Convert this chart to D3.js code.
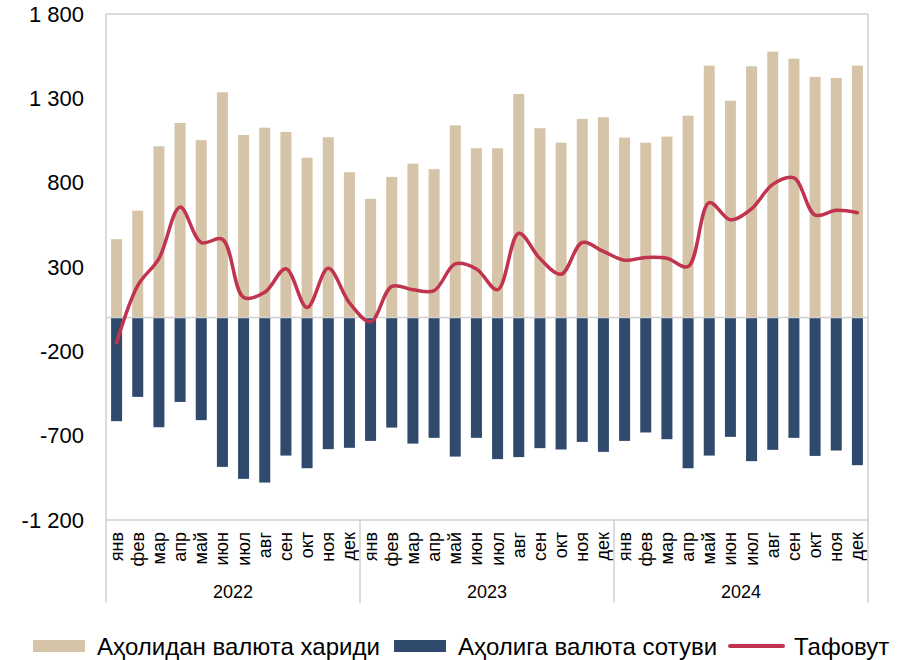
<!DOCTYPE html>
<html>
<head>
<meta charset="utf-8">
<script src="https://cdn.jsdelivr.net/npm/d3@7"></script>
<style>
  body { margin: 0; background: #fff; }
  svg text { font-family: "Liberation Sans", Arial, sans-serif; fill: #000; }
</style>
</head>
<body>
<svg id="chart"></svg>
<script>
// month labels, repeated for each year
var months = ["янв", "фев", "мар", "апр", "май", "июн", "июл", "авг", "сен", "окт", "ноя", "дек"];
var years = ["2022", "2023", "2024"];

// purchases from population (positive bars)
var purchase = [465, 634, 1016, 1154, 1052, 1336, 1083, 1126, 1101, 948, 1069, 862,
                704, 834, 913, 880, 1140, 1004, 1004, 1326, 1123, 1037, 1178, 1188,
                1067, 1037, 1073, 1197, 1494, 1286, 1490, 1577, 1535, 1427, 1421, 1494];

// sales to population (negative bars)
var sale = [-614, -470, -650, -500, -608, -885, -956, -978, -818, -893, -780, -772,
            -731, -652, -747, -713, -824, -713, -839, -827, -774, -782, -737, -796,
            -731, -681, -721, -893, -818, -707, -851, -784, -713, -820, -788, -875];

// difference line
var gap = [-150, 190, 350, 655, 445, 465, 120, 150, 290, 60, 292, 88,
           -25, 185, 165, 160, 318, 288, 165, 500, 350, 257, 445, 392,
           340, 357, 352, 303, 682, 580, 645, 790, 828, 608, 636, 622];

var yTicks = [-1200, -700, -200, 300, 800, 1300, 1800];
var legendNames = ["Аҳолидан валюта хариди", "Аҳолига валюта сотуви", "Тафовут"];

var colBuy = "#D6C4A8";
var colSell = "#2F4A6D";
var colGap = "#C0344F";
var colGrid = "#D0D0D0";

function plotChart(svgWidth, svgHeight) {

    /*
        MARGINS
    */
    var margin = {top: 14, left: 106, right: 40, bottom: 140};
    var width = svgWidth - margin.left - margin.right;   // 762
    var height = svgHeight - margin.top - margin.bottom; // 506

    var svg = d3.select("#chart")
        .attr("width", svgWidth)
        .attr("height", svgHeight);

    // one key per month, "2022-0" etc.
    var keys = [];
    years.forEach(function(y) {
        months.forEach(function(m, i) { keys.push(y + "-" + i); });
    });

    /*
        SCALES
    */
    var xScale = d3.scaleBand()
        .domain(keys)
        .range([0, width])
        .paddingInner(0.48)
        .paddingOuter(0.24);

    var yScale = d3.scaleLinear()
        .domain([-1200, 1800])
        .range([height, 0]);

    var loc = d3.formatLocale({decimal: ",", thousands: " ", grouping: [3], currency: ["", ""], minus: "-"});
    var fmt = loc.format(",");

    var g = svg.append("g")
        .attr("transform", "translate(" + margin.left + "," + margin.top + ")");

    // plot frame
    g.append("line").attr("x1", 0).attr("x2", width).attr("y1", 0).attr("y2", 0)
        .attr("stroke", colGrid).attr("stroke-width", 1.5);
    g.append("line").attr("x1", 0).attr("x2", width).attr("y1", height).attr("y2", height)
        .attr("stroke", colGrid).attr("stroke-width", 1.5);

    // y axis, labels only
    var y_axis = d3.axisLeft(yScale)
        .tickValues(yTicks)
        .tickFormat(fmt)
        .tickSize(0)
        .tickPadding(22);

    var ya = g.append("g").call(y_axis);
    ya.select(".domain").remove();
    ya.selectAll("text")
        .style("font-size", "22px");

    /*
        BARS
    */
    g.selectAll(".buy")
        .data(purchase)
        .enter().append("rect")
        .attr("class", "buy")
        .attr("x", function(d, i) { return xScale(keys[i]); })
        .attr("width", xScale.bandwidth())
        .attr("y", function(d) { return yScale(d); })
        .attr("height", function(d) { return yScale(0) - yScale(d); })
        .attr("fill", colBuy);

    g.selectAll(".sell")
        .data(sale)
        .enter().append("rect")
        .attr("class", "sell")
        .attr("x", function(d, i) { return xScale(keys[i]); })
        .attr("width", xScale.bandwidth())
        .attr("y", yScale(0))
        .attr("height", function(d) { return yScale(d) - yScale(0); })
        .attr("fill", colSell);

    // zero line
    g.append("line").attr("x1", 0).attr("x2", width)
        .attr("y1", yScale(0)).attr("y2", yScale(0))
        .attr("stroke", colGrid).attr("stroke-width", 1.5);

    /*
        LINE
    */
    var line = d3.line()
        .x(function(d, i) { return xScale(keys[i]) + xScale.bandwidth() / 2; })
        .y(function(d) { return yScale(d); })
        .curve(d3.curveCatmullRom.alpha(0.5));

    g.append("path")
        .datum(gap)
        .attr("fill", "none")
        .attr("stroke", colGap)
        .attr("stroke-width", 3.5)
        .attr("stroke-linejoin", "round")
        .attr("stroke-linecap", "round")
        .attr("d", line);

    /*
        CATEGORY AXIS (months + years)
    */
    g.selectAll(".mon")
        .data(keys)
        .enter().append("text")
        .attr("class", "mon")
        .attr("transform", function(d) {
            var cx = xScale(d) + xScale.bandwidth() / 2 + 6;
            return "translate(" + cx + "," + (height + 12) + ") rotate(-90)";
        })
        .style("text-anchor", "end")
        .style("font-size", "18px")
        .text(function(d) { return months[+d.split("-")[1]]; });

    var yearW = width / years.length;
    years.forEach(function(y, j) {
        g.append("line")
            .attr("x1", j * yearW).attr("x2", j * yearW)
            .attr("y1", j == 0 ? 0 : height).attr("y2", height + 83)
            .attr("stroke", colGrid).attr("stroke-width", 1.5);
        g.append("text")
            .attr("x", j * yearW + yearW / 2)
            .attr("y", height + 78)
            .style("text-anchor", "middle")
            .style("font-size", "18px")
            .text(y);
    });
    g.append("line")
        .attr("x1", width).attr("x2", width)
        .attr("y1", 0).attr("y2", height + 83)
        .attr("stroke", colGrid).attr("stroke-width", 1.5);

    /*
        LEGEND
    */
    var lg = svg.append("g").attr("transform", "translate(0, 646)");
    var lx = [33, 394, 730];
    lg.append("rect").attr("x", lx[0]).attr("y", -6).attr("width", 52).attr("height", 12).attr("fill", colBuy);
    lg.append("rect").attr("x", lx[1]).attr("y", -6).attr("width", 52).attr("height", 12).attr("fill", colSell);
    lg.append("line").attr("x1", lx[2]).attr("x2", lx[2] + 53).attr("y1", 0).attr("y2", 0)
        .attr("stroke", colGap).attr("stroke-width", 4).attr("stroke-linecap", "round");

    legendNames.forEach(function(name, i) {
        lg.append("text")
            .attr("x", lx[i] + 64)
            .attr("y", 9)
            .style("font-size", "24px")
            .text(name);
    });
}

document.addEventListener("DOMContentLoaded", function() {
    plotChart(908, 660);
});
</script>
</body>
</html>
